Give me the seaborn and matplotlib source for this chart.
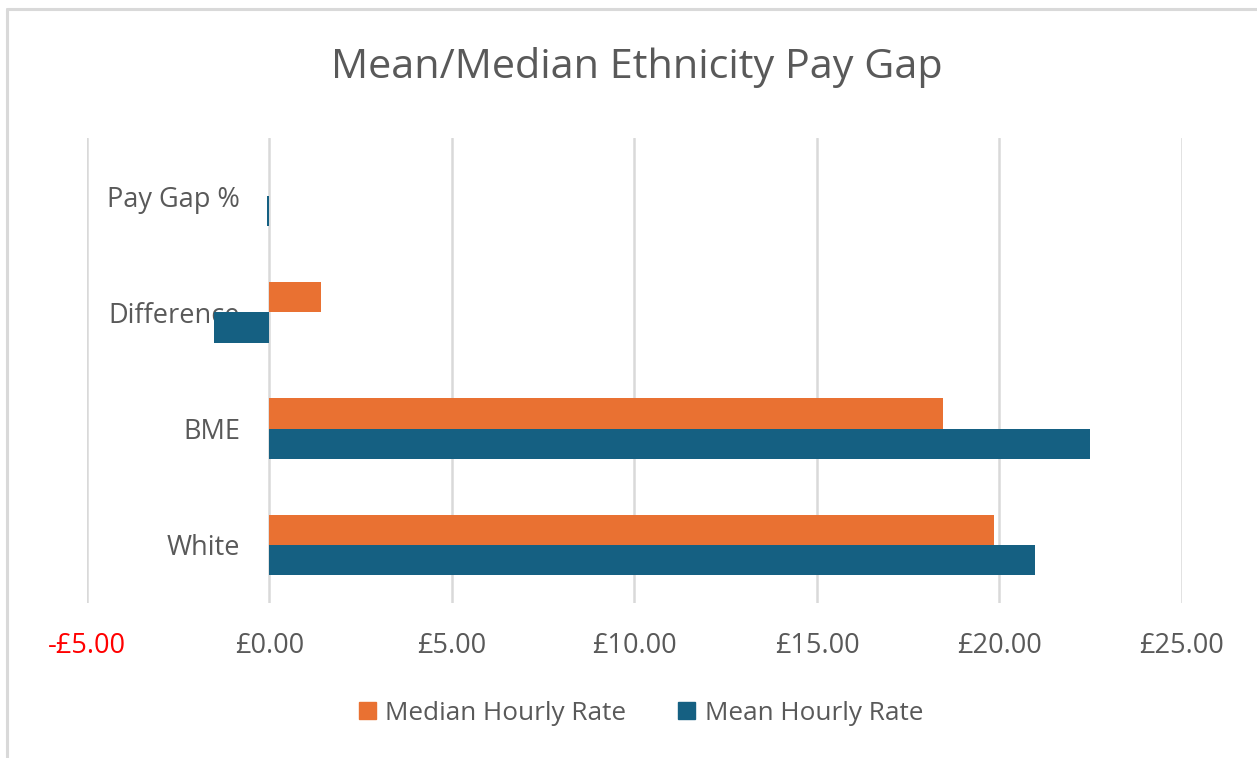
import pandas as pd
import matplotlib.pyplot as plt
import matplotlib.lines as mlines
import seaborn as sns

## Datos
categories = ['Pay Gap %', 'Difference', 'BME', 'White']
median_rate = [0.0, 1.42, 18.44, 19.86]
mean_rate = [-0.07, -1.51, 22.47, 20.96]
series = ['Median Hourly Rate', 'Mean Hourly Rate']
x_ticks = [-5, 0, 5, 10, 15, 20, 25]

df = pd.DataFrame({
    'category': categories * 2,
    'value': median_rate + mean_rate,
    'series': [series[0]] * 4 + [series[1]] * 4,
})

sns.set_style('white')
plt.rcParams['font.family'] = ['Open Sans', 'DejaVu Sans']

gray_txt = '#595959'
grid_col = '#D9D9D9'
fs = 19.5

fig = plt.figure(figsize=(12.57, 7.58), dpi=100)
ax = fig.add_axes([0.0692, 0.2045, 0.8711, 0.6135])

sns.barplot(data=df, x='value', y='category', hue='series', order=categories,
            hue_order=series, palette=['#E97132', '#156082'], width=0.52,
            orient='h', ax=ax, legend=False, saturation=1, edgecolor='none')

ax.set_xlim(-5, 25)
ax.set_ylim(3.5, -0.5)
ax.set_xticks(x_ticks)
ax.set_xticklabels([('-£%.2f' % abs(v)) if v < 0 else '£%.2f' % v for v in x_ticks],
                   fontsize=fs, color=gray_txt)
ax.get_xticklabels()[0].set_color('#FF0000')
ax.tick_params(axis='x', length=0, pad=21)
ax.tick_params(axis='y', length=0, pad=21, labelsize=fs, labelcolor=gray_txt)
ax.xaxis.grid(True, color=grid_col, linewidth=1.8)
ax.set_axisbelow(True)

ax.spines['left'].set_position(('data', 0))
for s in ['top', 'right', 'bottom', 'left']:
    ax.spines[s].set_visible(False)
ax.set_xlabel('')
ax.set_ylabel('')

fig.text(0.507, 1 - 68 / 758, 'Mean/Median Ethnicity Pay Gap', ha='center', va='center',
         fontsize=29.8, color=gray_txt)

handles = [plt.Rectangle((0, 0), 1, 1, color=c) for c in ['#E97132', '#156082']]
fig.legend(handles, series, loc='center', bbox_to_anchor=(0.51, 1 - 713 / 758), ncol=2,
           frameon=False, fontsize=18.8, handlelength=0.65, handleheight=0.65,
           handletextpad=0.35, columnspacing=2.0, labelcolor=gray_txt)

# borde del área del gráfico
fig.add_artist(mlines.Line2D([7 / 1257, 7 / 1257], [0, 1 - 9 / 758], color=grid_col, linewidth=2.2))
fig.add_artist(mlines.Line2D([7 / 1257, 1], [1 - 9 / 758, 1 - 9 / 758], color=grid_col, linewidth=2.2))

plt.savefig('out.png', dpi=100)
